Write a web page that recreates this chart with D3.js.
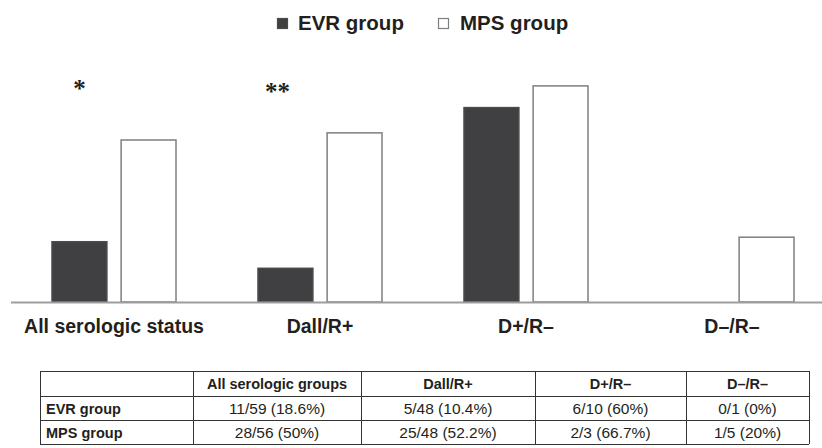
<!DOCTYPE html>
<html>
<head>
<meta charset="utf-8">
<script src="https://cdn.jsdelivr.net/npm/d3@7"></script>
<style>
  html, body { margin: 0; padding: 0; background: #fff; }
  svg { display: block; font-family: "Liberation Sans", Arial, sans-serif; }
</style>
</head>
<body>
<svg id="chart" width="822" height="448"></svg>
<script>
// Serologic subgroups and the share of patients (%) in each treatment group
const categories = ["All serologic status", "Dall/R+", "D+/R\u2013", "D\u2013/R\u2013"];
const groups = ["EVR group", "MPS group"];
const evrValues = [18.6, 10.4, 60, 0];
const mpsValues = [50, 52.2, 66.7, 20];
const significance = ["*", "**", "", ""];

// Summary table below the chart
const tableHeader = ["", "All serologic groups", "Dall/R+", "D+/R\u2013", "D\u2013/R\u2013"];
const evrCounts = ["11/59 (18.6%)", "5/48 (10.4%)", "6/10 (60%)", "0/1 (0%)"];
const mpsCounts = ["28/56 (50%)", "25/48 (52.2%)", "2/3 (66.7%)", "1/5 (20%)"];

const W = 822, H = 448;
const svg = d3.select("#chart");
const textColor = "#231f20";
const evrFill = "#404042";
const outline = "#7f7f7f";

const baseY = 302;
const y = d3.scaleLinear().domain([0, 70]).range([baseY, baseY - 70 * 3.24]);
const x0 = d3.scaleBand().domain(categories).range([11, 835]).paddingInner(0).paddingOuter(0);
const x1 = d3.scaleBand().domain(groups).range([41, 165]).paddingInner(0.206).paddingOuter(0);

const rows = categories.map((c, i) => ({
  cat: c,
  star: significance[i],
  values: [{ g: groups[0], v: evrValues[i] }, { g: groups[1], v: mpsValues[i] }]
}));

// Bars
const cat = svg.append("g").selectAll("g").data(rows).join("g")
  .attr("transform", d => `translate(${x0(d.cat)},0)`);

cat.selectAll("rect").data(d => d.values.filter(e => e.v > 0)).join("rect")
  .attr("x", d => x1(d.g))
  .attr("y", d => y(d.v))
  .attr("width", x1.bandwidth())
  .attr("height", d => y(0) - y(d.v))
  .attr("fill", d => d.g === groups[0] ? evrFill : "#fff")
  .attr("stroke", d => d.g === groups[0] ? "#4a4a4c" : outline)
  .attr("stroke-width", 1.5);

// Significance markers above the EVR bars
cat.filter(d => d.star).append("text")
  .attr("x", d => x1(groups[0]) + x1.bandwidth() / 2 - (d.star.length - 1) * 8)
  .attr("y", d => d.star.length > 1 ? 100 : 97)
  .attr("text-anchor", "middle")
  .attr("font-family", "'Liberation Serif', 'Times New Roman', serif")
  .attr("font-weight", "bold")
  .attr("font-size", 25)
  .attr("fill", textColor)
  .text(d => d.star);

// Baseline
svg.append("line")
  .attr("x1", 11).attr("x2", W)
  .attr("y1", baseY + 0.5).attr("y2", baseY + 0.5)
  .attr("stroke", "#9d9d9d").attr("stroke-width", 2);

// Category labels
const xAxis = d3.axisBottom(x0).tickSize(0).tickPadding(0);
const ax = svg.append("g").attr("transform", `translate(0,${baseY})`).call(xAxis);
ax.select(".domain").remove();
ax.selectAll("text")
  .attr("y", 31).attr("dy", 0)
  .attr("font-family", "'Liberation Sans', Arial, sans-serif")
  .attr("font-size", 19.5)
  .attr("font-weight", "bold")
  .attr("fill", textColor);

// Legend
const legend = [
  { g: groups[0], sx: 277, tx: 298 },
  { g: groups[1], sx: 438, tx: 460 }
];
const lg = svg.append("g");
lg.selectAll("rect").data(legend).join("rect")
  .attr("x", d => d.sx + 0.5).attr("y", 18.5)
  .attr("width", 10).attr("height", 10)
  .attr("fill", d => d.g === groups[0] ? evrFill : "#fff")
  .attr("stroke", d => d.g === groups[0] ? "#4a4a4c" : outline)
  .attr("stroke-width", 1.2);
lg.selectAll("text").data(legend).join("text")
  .attr("x", d => d.tx).attr("y", 30)
  .attr("font-size", 20.5).attr("font-weight", "bold")
  .attr("fill", textColor)
  .text(d => d.g);

// Table
const colEdges = [40, 193, 361, 535, 686, 809];
const rowEdges = [371, 396, 420, 444];
const tableRows = [
  tableHeader,
  [groups[0]].concat(evrCounts),
  [groups[1]].concat(mpsCounts)
];
const tb = svg.append("g");
tb.selectAll("line.h").data(rowEdges).join("line").attr("class", "h")
  .attr("x1", colEdges[0]).attr("x2", colEdges[colEdges.length - 1])
  .attr("y1", d => d + 0.5).attr("y2", d => d + 0.5)
  .attr("stroke", "#333").attr("stroke-width", 1);
tb.selectAll("line.v").data(colEdges).join("line").attr("class", "v")
  .attr("x1", d => d + 0.5).attr("x2", d => d + 0.5)
  .attr("y1", rowEdges[0]).attr("y2", rowEdges[rowEdges.length - 1])
  .attr("stroke", "#333").attr("stroke-width", 1);

tableRows.forEach((r, ri) => {
  const cy = (rowEdges[ri] + rowEdges[ri + 1]) / 2;
  r.forEach((cell, ci) => {
    if (!cell) return;
    const first = ci === 0;
    const bold = ri === 0 || first;
    tb.append("text")
      .attr("x", first ? colEdges[0] + 6 : (colEdges[ci] + colEdges[ci + 1]) / 2)
      .attr("y", cy + 5.5)
      .attr("text-anchor", first ? "start" : "middle")
      .attr("font-size", bold ? 14.5 : 15.5)
      .attr("font-weight", bold ? "bold" : "normal")
      .attr("fill", textColor)
      .text(cell);
  });
});
</script>
</body>
</html>
